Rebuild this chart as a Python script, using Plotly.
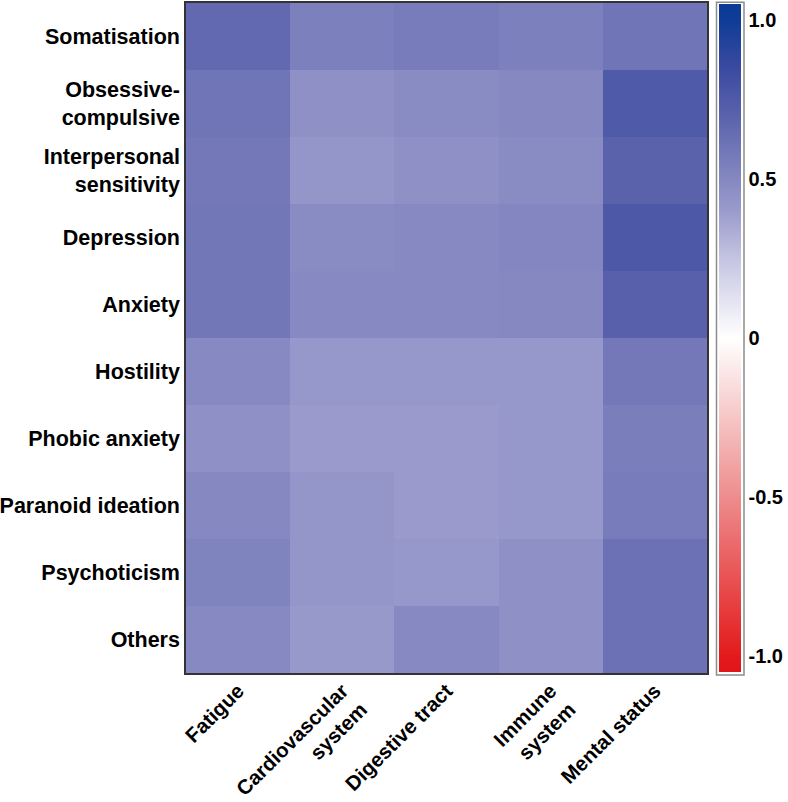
import plotly.graph_objects as go

rows = ["Somatisation", "Obsessive-<br>compulsive", "Interpersonal<br>sensitivity",
        "Depression", "Anxiety", "Hostility", "Phobic anxiety",
        "Paranoid ideation", "Psychoticism", "Others"]
cols = ["Fatigue", "Cardiovascular<br>system", "Digestive tract",
        "Immune<br>system", "Mental status"]

fatigue        = [0.66, 0.60, 0.58, 0.59, 0.59, 0.49, 0.45, 0.50, 0.52, 0.49]
cardiovascular = [0.54, 0.45, 0.43, 0.48, 0.49, 0.42, 0.40, 0.43, 0.43, 0.41]
digestive      = [0.56, 0.48, 0.45, 0.49, 0.49, 0.42, 0.40, 0.40, 0.42, 0.49]
immune         = [0.54, 0.50, 0.48, 0.51, 0.50, 0.42, 0.42, 0.42, 0.45, 0.45]
mental         = [0.60, 0.75, 0.70, 0.76, 0.71, 0.58, 0.55, 0.56, 0.62, 0.62]

cbar_ticks = [1.0, 0.5, 0, -0.5, -1.0]
cbar_labels = ["1.0", "0.5", "0", "-0.5", "-1.0"]

series = [fatigue, cardiovascular, digestive, immune, mental]
z = [[s[i] for s in series] for i in range(len(rows))]

zmin, zmax = -1.05, 1.05
stops = [(-1.05, "#E0151A"), (-1.0, "#E31A1C"), (-0.5, "#EE8C8D"), (-0.25, "#F6C6C6"),
         (0.0, "#FFFFFF"), (0.25, "#C4C4E2"), (0.4, "#9A9BCC"), (0.55, "#7A7EBB"),
         (0.7, "#5A62AC"), (0.85, "#3A4AA0"), (1.0, "#0E3C97"), (1.05, "#0B3A96")]
colorscale = [[(v - zmin) / (zmax - zmin), c] for v, c in stops]

font_family = "Arial, Liberation Sans, sans-serif"

W, H = 788, 802
L, R, T, B = 186, 81, 3, 129
pw = W - L - R

fig = go.Figure(go.Heatmap(
    z=z, x=cols, y=rows, zmin=zmin, zmax=zmax, colorscale=colorscale,
    xgap=0, ygap=0,
    colorbar=dict(
        x=1.0, xanchor="left", xpad=12, y=0.5, yanchor="middle", ypad=1,
        len=1.0, lenmode="fraction", thickness=22,
        outlinecolor="rgba(0,0,0,0)", outlinewidth=0,
        tickvals=cbar_ticks, ticktext=cbar_labels,
        ticks="outside", ticklen=4, tickcolor="rgba(0,0,0,0)",
        tickfont=dict(family=font_family, size=20, color="black", weight="bold"),
    ),
))

fig.add_shape(type="rect", xref="paper", yref="paper",
              x0=(716.5 - L) / pw, x1=(744 - L) / pw, y0=-0.003, y1=1.001,
              line=dict(color="#8C8C8C", width=1.5), fillcolor="rgba(0,0,0,0)")

fig.update_layout(
    width=W, height=H,
    margin=dict(l=L, r=R, t=T, b=B, autoexpand=False),
    paper_bgcolor="white", plot_bgcolor="white",
    font=dict(family=font_family, size=21, color="black"),
)
fig.update_xaxes(
    tickangle=-45, showline=True, mirror=True, linecolor="#333333", linewidth=1.5,
    ticks="", ticklabelstandoff=-4,
    tickfont=dict(family=font_family, size=20.5, color="black", weight="bold"),
    showgrid=False, zeroline=False, automargin=False,
)
fig.update_yaxes(
    autorange="reversed", showline=True, mirror=True, linecolor="#333333", linewidth=1.5,
    ticks="", tickfont=dict(family=font_family, size=21.5, color="black", weight="bold"),
    showgrid=False, zeroline=False, automargin=False,
)

fig.write_html("out.html", config={"displayModeBar": False},
               post_script="document.body.style.margin='0px';")
